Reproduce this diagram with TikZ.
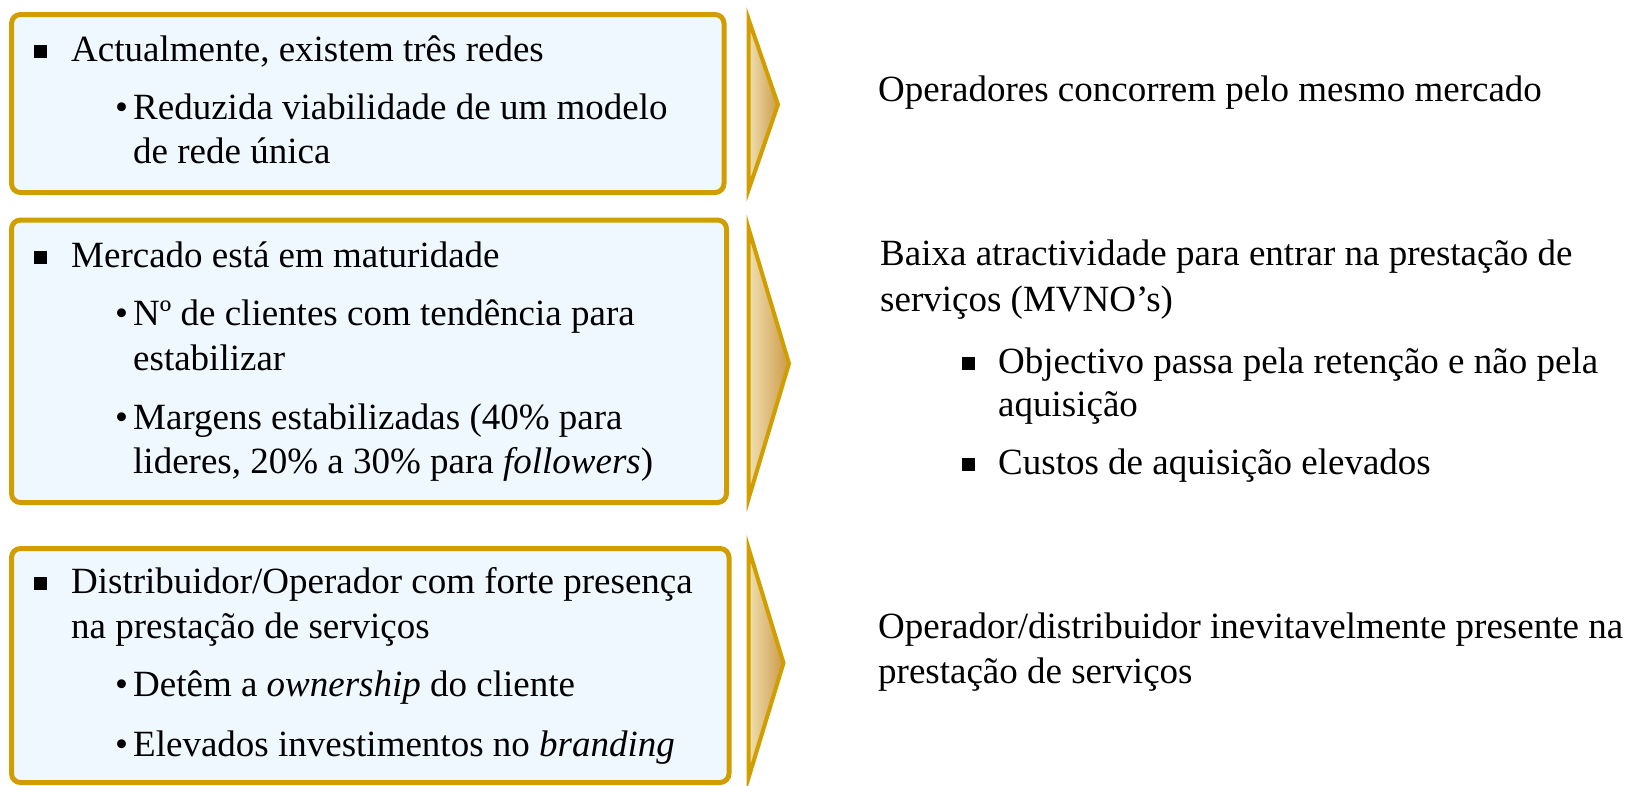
\documentclass[tikz,border=0pt]{standalone}
\usepackage{fontspec}
\setmainfont{Liberation Serif}
\definecolor{gold}{RGB}{208,158,0}
\definecolor{boxfill}{RGB}{240,248,255}
\definecolor{creamA}{RGB}{240,224,178}
\definecolor{creamB}{RGB}{245,233,198}
\definecolor{creamC}{RGB}{204,154,72}
\tikzset{
  box/.style={draw=gold, line width=5, fill=boxfill, rounded corners=9, inner sep=0, anchor=north west},
  chevron/.style={draw=gold, line width=4, line join=miter, left color=creamA, middle color=creamB, right color=creamC},
  txt/.style={anchor=base west, inner sep=0, font=\fontsize{37}{45}\selectfont},
  sqb/.style={fill=black, inner sep=0, minimum size=13, anchor=south west}
}
\begin{document}
\begin{tikzpicture}[x=1pt,y=-1pt]
\useasboundingbox (0,0) rectangle (1634,785);
% boxes
\node[box, minimum width=712.5, minimum height=178] (b1) at (9,12) {};
\node[box, minimum width=715, minimum height=282.5] (b2) at (9,217.5) {};
\node[box, minimum width=717.5, minimum height=234] (b3) at (9,546) {};
% chevrons
\draw[chevron] (748.5,19) -- (778,104.5) -- (748.5,190) -- cycle;
\draw[chevron] (748.5,228) -- (789,363.5) -- (748.5,499) -- cycle;
\draw[chevron] (748.5,548) -- (783.5,663) -- (748.5,778) -- cycle;
% box 1
\node[sqb] (s1) at (34,58) {};
\node[txt] (a1) at (71,61) {Actualmente, existem três redes};
\node[txt] (d1) at (115,119) {•};
\node[txt] (a2) at (133,119) {Reduzida viabilidade de um modelo};
\node[txt] (a3) at (133,163) {de rede única};
% box 2
\node[sqb] (s2) at (34,264) {};
\node[txt] (m1) at (71,267) {Mercado está em maturidade};
\node[txt] (d2) at (115,325) {•};
\node[txt] (m2) at (133,325) {Nº de clientes com tendência para};
\node[txt] (m3) at (133,370) {estabilizar};
\node[txt] (d3) at (115,429) {•};
\node[txt] (m4) at (133,429) {Margens estabilizadas (40\% para};
\node[txt] (m5) at (133,473) {lideres, 20\% a 30\% para \textit{followers})};
% box 3
\node[sqb] (s3) at (34,590) {};
\node[txt] (c1) at (71,593) {Distribuidor/Operador com forte presença};
\node[txt] (c2) at (71,638) {na prestação de serviços};
\node[txt] (d4) at (115,696) {•};
\node[txt] (c3) at (133,696) {Detêm a \textit{ownership} do cliente};
\node[txt] (d5) at (115,756) {•};
\node[txt] (c4) at (133,756) {Elevados investimentos no \textit{branding}};
% right column
\node[txt] (r1) at (878,101) {Operadores concorrem pelo mesmo mercado};
\node[txt] (r2) at (880,265) {Baixa atractividade para entrar na prestação de};
\node[txt] (r3) at (880,311) {serviços (MVNO’s)};
\node[sqb] (s4) at (962,370) {};
\node[txt] (r4) at (998,373) {Objectivo passa pela retenção e não pela};
\node[txt] (r5) at (998,416) {aquisição};
\node[sqb] (s5) at (962,471) {};
\node[txt] (r6) at (998,474) {Custos de aquisição elevados};
\node[txt] (r7) at (878,638) {Operador/distribuidor inevitavelmente presente na};
\node[txt] (r8) at (878,683) {prestação de serviços};
\end{tikzpicture}
\end{document}
